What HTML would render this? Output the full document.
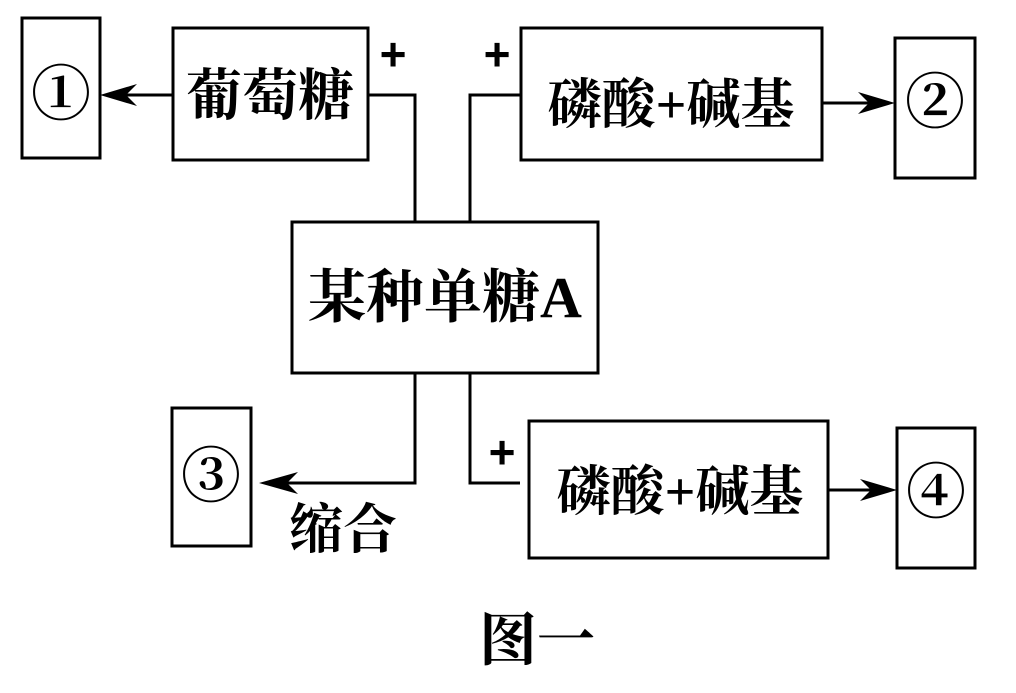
<!DOCTYPE html>
<html><head><meta charset="utf-8"><style>
body{margin:0;background:#fff;width:1016px;height:688px;overflow:hidden}
svg text{font-family:"Liberation Serif","Noto Serif CJK SC",serif;font-weight:bold;fill:#000}
svg text.p{font-family:"Liberation Sans",sans-serif;font-weight:bold}
</style></head><body>
<svg width="1016" height="688" viewBox="0 0 1016 688" xmlns="http://www.w3.org/2000/svg">
<g fill="none" stroke="#000" stroke-width="3">
<rect x="22" y="18" width="78" height="140"/>
<rect x="173" y="28" width="195" height="132"/>
<rect x="521" y="28" width="301" height="132"/>
<rect x="895" y="38" width="80" height="140"/>
<rect x="292" y="222" width="306" height="151"/>
<rect x="172" y="408" width="79" height="138"/>
<rect x="529" y="421" width="299" height="137"/>
<rect x="897" y="428" width="78" height="140"/>
<polyline points="368,95 415,95 415,222"/>
<polyline points="470,222 470,95 521,95"/>
<polyline points="415,373 415,483 265,483"/>
<polyline points="470,373 470,483 520,483"/>
<line x1="173" y1="95" x2="110" y2="95"/>
<line x1="822" y1="103" x2="885" y2="103"/>
<line x1="828" y1="490" x2="887" y2="490"/>
</g>
<g fill="#000">
<polygon points="100,95 137,84 126,95 137,106"/>
<polygon points="895,103 858,92 869,103 858,114"/>
<polygon points="897,490 860,479 871,490 860,501"/>
<polygon points="259,483 298,472 287,483 298,494"/>
</g>
<text x="61" y="115" font-size="60" text-anchor="middle">①</text>
<text x="935" y="123" font-size="60" text-anchor="middle">②</text>
<text x="211" y="497" font-size="60" text-anchor="middle">③</text>
<text x="936" y="513" font-size="60" text-anchor="middle">④</text>
<text x="270" y="115" font-size="56" text-anchor="middle">葡萄糖</text>
<text x="671" y="123" font-size="54" text-anchor="middle">磷酸+碱基</text>
<text x="445" y="317" font-size="58" text-anchor="middle">某种单糖A</text>
<text x="680" y="510" font-size="54" text-anchor="middle">磷酸+碱基</text>
<text x="343" y="548" font-size="54" text-anchor="middle">缩合</text>
<text x="537" y="660" font-size="58" text-anchor="middle">图一</text>
<text class="p" x="393" y="70" font-size="46" text-anchor="middle">+</text>
<text class="p" x="497" y="70" font-size="46" text-anchor="middle">+</text>
<text class="p" x="502" y="468" font-size="46" text-anchor="middle">+</text>
</svg>
</body></html>
